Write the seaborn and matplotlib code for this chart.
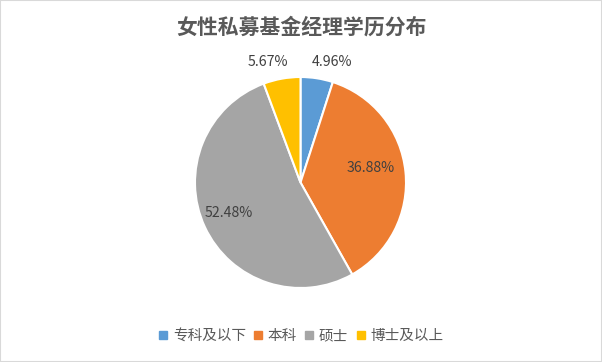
import matplotlib
matplotlib.use("Agg")
import matplotlib.pyplot as plt
import seaborn as sns
from matplotlib.lines import Line2D
from matplotlib.patches import Rectangle

categories = ["专科及以下", "本科", "硕士", "博士及以上"]
values = [4.96, 36.88, 52.48, 5.67]
colors = ["#5B9BD5", "#ED7D31", "#A5A5A5", "#FFC000"]
title = "女性私募基金经理学历分布"

sns.set_theme(style="white")
plt.rcParams["font.family"] = ["Noto Sans CJK SC", "DejaVu Sans"]

W, H = 602, 362
fig = plt.figure(figsize=(W / 100, H / 100), dpi=100)
fig.patch.set_facecolor("white")

cx, cy, r = 300.5, 182.5, 105.5
ax = fig.add_axes([(cx - r) / W, (H - cy - r) / H, 2 * r / W, 2 * r / H])
wedges, texts, autotexts = ax.pie(
    values, colors=colors, startangle=90, counterclock=False,
    autopct=lambda p: "", wedgeprops=dict(edgecolor="white", linewidth=1.5),
)
ax.set_xlim(-1, 1)
ax.set_ylim(-1, 1)
ax.set_aspect("equal")
ax.axis("off")

label_pos = [(0.299, 1.142), (0.668, 0.137), (-0.678, -0.289), (-0.308, 1.142)]
for v, (x, y), t in zip(values, label_pos, autotexts):
    t.set_text(f"{v:.2f}%")
    t.set_position((x, y))
    t.set_ha("center")
    t.set_va("center")
    t.set_fontsize(10.2)
    t.set_color("#404040")
    t.set_clip_on(False)

fig.text(0.5, 1 - 27 / H, title, ha="center", va="center",
         fontsize=15, fontweight="bold", color="#595959")

handles = [Line2D([0], [0], marker="s", linestyle="none", markersize=5.5,
                  markerfacecolor=c, markeredgecolor=c) for c in colors]
fig.legend(handles, categories, loc="center", bbox_to_anchor=(0.5, 1 - 336 / H),
           ncol=4, frameon=False, fontsize=10.5, handlelength=0.6,
           handletextpad=0.35, columnspacing=0.55, labelcolor="#595959")

fig.patches.append(Rectangle((0, 0), 1, 1, transform=fig.transFigure, fill=False,
                             edgecolor="#D9D9D9", linewidth=1.5))

fig.savefig("out.png", dpi=100)
